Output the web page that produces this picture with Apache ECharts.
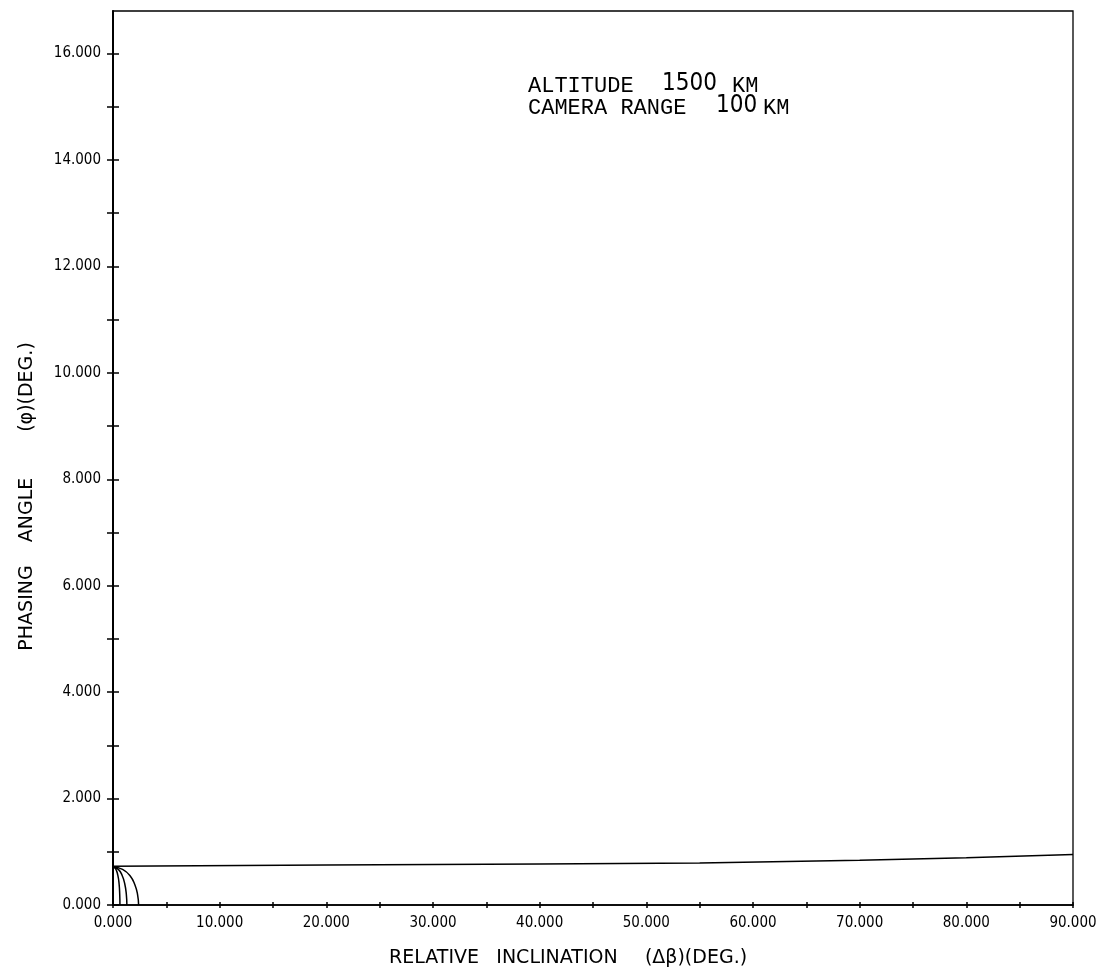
<!DOCTYPE html>
<html>
<head>
<meta charset="utf-8">
<script src="https://cdn.jsdelivr.net/npm/echarts@6/dist/echarts.min.js"></script>
<style>html,body{margin:0;padding:0;background:#fff;}#c{width:1109px;height:974px;}</style>
</head>
<body>
<div id="c"></div>
<script>
// ---- data ----
var xLabelValues = [0, 10, 20, 30, 40, 50, 60, 70, 80, 90];
var xTickValues = [0, 5, 10, 15, 20, 25, 30, 35, 40, 45, 50, 55, 60, 65, 70, 75, 80, 85, 90];
var yLabelValues = [0, 2, 4, 6, 8, 10, 12, 14, 16];
var yTickValues = [0, 1, 2, 3, 4, 5, 6, 7, 8, 9, 10, 11, 12, 13, 14, 15, 16];

// nearly flat boundary line across the plot
var boundaryLine = [[0, 0.73], [20, 0.75], [40, 0.77], [55, 0.79], [70, 0.84], [80, 0.89], [90, 0.95]];
// small arcs at the origin
var arcA = [[0, 0.72], [0.25, 0.68], [0.45, 0.56], [0.57, 0.40], [0.63, 0.20], [0.65, 0]];
var arcB = [[0, 0.72], [0.5, 0.67], [0.85, 0.56], [1.1, 0.40], [1.25, 0.20], [1.3, 0]];
var arcC = [[0, 0.72], [0.9, 0.67], [1.6, 0.55], [2.05, 0.38], [2.3, 0.20], [2.4, 0]];

var xName = ['RELATIVE', 'INCLINATION', '(Δβ)(DEG.)'];
var yName = ['PHASING', 'ANGLE', '(φ)(DEG.)'];

var tickFont = "'DejaVu Sans Condensed', 'DejaVu Sans', sans-serif";
var handFont = "'DejaVu Sans', sans-serif";
var monoFont = "22px 'Liberation Mono', 'DejaVu Sans Mono', monospace";
var numFont = "24px 'DejaVu Sans Condensed', sans-serif";

var chart = echarts.init(document.getElementById('c'), null, {renderer: 'canvas'});

function xAxisBase(extra) {
  return Object.assign({
    type: 'value', min: 0, max: 90, interval: 5, position: 'bottom',
    splitLine: {show: false},
    axisLine: {show: true, onZero: false, lineStyle: {color: '#000', width: 1.5}}
  }, extra);
}
function yAxisBase(extra) {
  return Object.assign({
    type: 'value', min: 0, max: 16.8, interval: 1, position: 'left',
    splitLine: {show: false},
    axisLine: {show: true, onZero: false, lineStyle: {color: '#000', width: 2}}
  }, extra);
}

function txt(x, y, text, font, rot, align) {
  var o = {type: 'text', x: x, y: y, style: {text: text, font: font, fill: '#000', align: align || 'center', verticalAlign: 'middle'}};
  if (rot) o.rotation = rot;
  return o;
}

var option = {
  backgroundColor: '#fff',
  animation: false,
  grid: {left: 113, right: 36, top: 11, bottom: 69, show: true, borderColor: '#000', borderWidth: 1.3, backgroundColor: 'transparent'},
  xAxis: [
    xAxisBase({
      axisTick: {show: true, inside: false, length: 3, customValues: xTickValues, lineStyle: {color: '#000', width: 1.5}},
      axisLabel: {show: true, customValues: xLabelValues, margin: 11, color: '#000', fontSize: 15, fontFamily: tickFont,
        formatter: function (v) { return v.toFixed(3); }}
    }),
    xAxisBase({
      axisLine: {show: false},
      axisTick: {show: true, inside: true, length: 3, customValues: xTickValues, lineStyle: {color: '#000', width: 1.5}},
      axisLabel: {show: false}
    })
  ],
  yAxis: [
    yAxisBase({
      axisTick: {show: true, inside: false, length: 6, customValues: yTickValues, lineStyle: {color: '#000', width: 1.5}},
      axisLabel: {show: true, customValues: yLabelValues, margin: 12, color: '#000', fontSize: 15, fontFamily: tickFont,
        formatter: function (v) { return v.toFixed(3); }}
    }),
    yAxisBase({
      axisLine: {show: false},
      axisTick: {show: true, inside: true, length: 6, customValues: yTickValues, lineStyle: {color: '#000', width: 1.5}},
      axisLabel: {show: false}
    })
  ],
  series: [
    {type: 'line', data: boundaryLine, showSymbol: false, lineStyle: {color: '#000', width: 1.5}},
    {type: 'line', data: arcA, smooth: true, showSymbol: false, lineStyle: {color: '#000', width: 1.5}},
    {type: 'line', data: arcB, smooth: true, showSymbol: false, lineStyle: {color: '#000', width: 1.5}},
    {type: 'line', data: arcC, smooth: true, showSymbol: false, lineStyle: {color: '#000', width: 1.5}}
  ],
  graphic: [
    txt(528, 86, 'ALTITUDE', monoFont, 0, 'left'),
    txt(662, 84, '1500', numFont, 0, 'left'),
    txt(732, 86, 'KM', monoFont, 0, 'left'),
    txt(528, 108, 'CAMERA RANGE', monoFont, 0, 'left'),
    txt(716, 106, '100', numFont, 0, 'left'),
    txt(763, 108, 'KM', monoFont, 0, 'left'),

    txt(434, 958, xName[0], "19px " + handFont),
    txt(557, 958, xName[1], "19px " + handFont),
    txt(696, 958, xName[2], "19px " + handFont),

    txt(27, 608, yName[0], "19px " + handFont, Math.PI / 2),
    txt(27, 510, yName[1], "19px " + handFont, Math.PI / 2),
    txt(27, 387, yName[2], "19px " + handFont, Math.PI / 2)
  ]
};
chart.setOption(option);
</script>
</body>
</html>
